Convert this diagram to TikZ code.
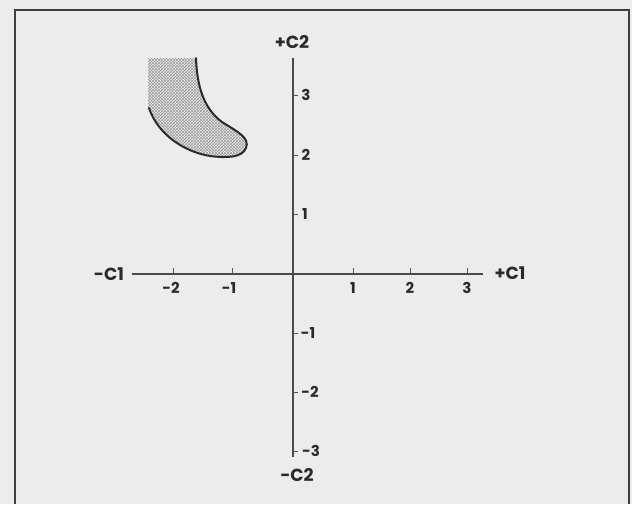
\documentclass[tikz,border=0pt]{standalone}
\usepackage{fontspec}
\setmainfont{Poppins}
\usetikzlibrary{patterns}
\definecolor{bg}{HTML}{ECECEC}
\definecolor{ink}{HTML}{2A2A2A}
\tikzset{
  axislabel/.style={font=\fontsize{17.5}{17.5}\selectfont\bfseries, text=ink, inner sep=1pt},
  ticklabel/.style={font=\fontsize{15}{15}\selectfont\bfseries, text=ink, inner sep=1pt},
  axisline/.style={draw=ink!85, line width=1.1pt},
  tickmark/.style={draw=ink!80, line width=0.6pt},
  outline/.style={draw=ink, line width=2pt, line cap=round},
  frame/.style={draw=ink!90, line width=1.3pt}
}
\begin{document}
\begin{tikzpicture}[x=1pt,y=-1pt]
\fill[bg] (0,0) rectangle (632,504);
\useasboundingbox (0,0) rectangle (632,504);
% frame (open at bottom, cut off)
\draw[frame] (15,504) -- (15,10) -- (629,10) -- (629,504);

% shaded region
\path[pattern=crosshatch, pattern color=gray!80]
  (148,58) -- (196,58)
  .. controls (197,85) and (203,108) .. (222,122)
  .. controls (238,132) and (250,138) .. (246,148)
  .. controls (242,158) and (226,158) .. (210,156)
  .. controls (185,152) and (158,135) .. (148,108) -- cycle;
\draw[outline] (196,58)
  .. controls (197,85) and (203,108) .. (222,122)
  .. controls (238,132) and (250,138) .. (246,148)
  .. controls (242,158) and (226,158) .. (210,156)
  .. controls (185,152) and (158,135) .. (149,108);

% axis labels
\node[axislabel] (mC1) at (109,274) {-C1};
\node[axislabel] (pC1) at (510,273) {+C1};
\node[axislabel] (pC2) at (292,42) {+C2};
\node[axislabel] (mC2) at (297,475) {-C2};
\coordinate (xs) at (132,274);
\coordinate (xe) at (483,274);
\coordinate (ys) at (293,58);
\coordinate (ye) at (293,457);
\draw[axisline] (xs) -- (xe);
\draw[axisline] (ys) -- (ye);

% x ticks
\foreach \x/\lab/\lx in {173/-2/171, 232/-1/229, 353/1/353, 410/2/410, 467/3/467}{
  \draw[tickmark] (\x,274) -- (\x,268);
  \node[ticklabel] at (\lx,288) {\lab};
}
% y ticks
\foreach \y/\lab/\lx in {95/3/306, 155/2/306, 214/1/305, 333/-1/308, 392/-2/310, 451/-3/311}{
  \draw[tickmark] (293,\y) -- (298,\y);
  \node[ticklabel] at (\lx,\y) {\lab};
}
\end{tikzpicture}
\end{document}
